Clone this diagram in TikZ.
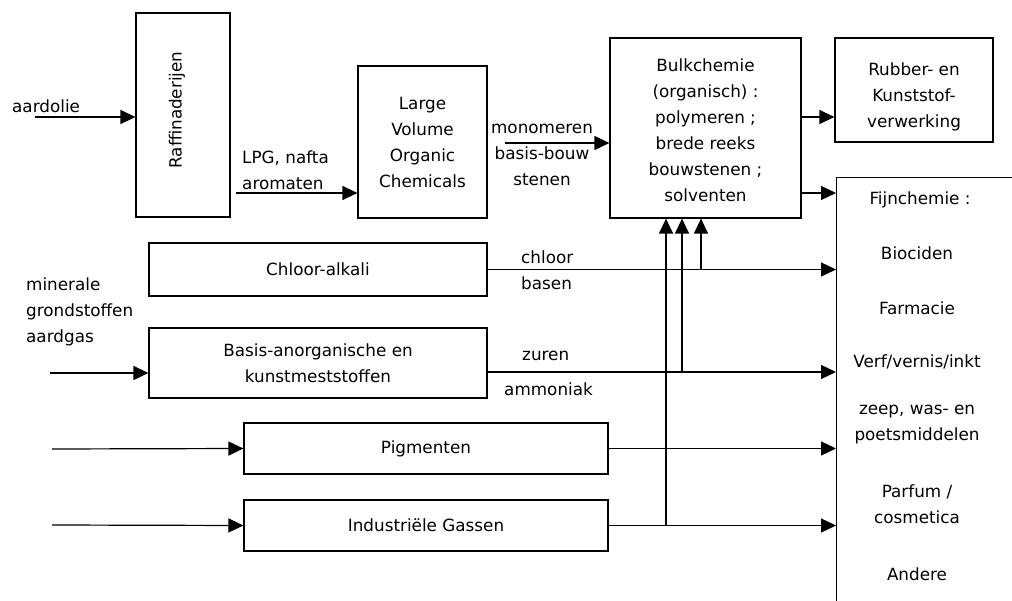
\documentclass[tikz,border=0pt]{standalone}
\usepackage{fontspec}
\setmainfont{DejaVu Sans}
\usetikzlibrary{arrows.meta}
\begin{document}
\begin{tikzpicture}[x=1pt,y=-1pt,
  font=\fontsize{16.8}{26}\selectfont,
  box/.style={draw, line width=1.2pt, inner sep=0pt, align=center},
  txt/.style={inner sep=0pt, align=center},
  ltxt/.style={inner sep=0pt, align=left, anchor=west},
  arr/.style={line width=1.2pt, -{Triangle[length=15pt,width=14pt]}},
  ln/.style={line width=1.2pt}]
\clip (0,0) rectangle (1012,601);
\fill[white] (0,0) rectangle (1012,601);

% process boxes
\node[box, minimum width=94pt, minimum height=204pt] (raf) at (183,115) {};
\node[txt, rotate=90] (rafT) at (177,110) {Raffinaderijen};
\node[box, minimum width=129pt, minimum height=152pt] (lvoc) at (422.5,142)
  {Large\\Volume\\Organic\\Chemicals};
\node[box, minimum width=191pt, minimum height=180pt] (bulk) at (705.5,128) {};
\node[txt] (bulkT) at (705.5,130) {Bulkchemie\\(organisch) :\\polymeren ;\\brede reeks\\bouwstenen ;\\solventen};
\node[box, minimum width=158pt, minimum height=104pt] (rub) at (914,90) {};
\node[txt] (rubT) at (914,97) {Rubber- en\\Kunststof-\\verwerking};
\node[box, anchor=north west, minimum width=260pt, minimum height=500pt] (fijn) at (836,177) {};
\node[box, minimum width=338pt, minimum height=53pt] (chl) at (318,269.5) {Chloor-alkali};
\node[box, minimum width=338pt, minimum height=70pt] (bas) at (318,363) {Basis-anorganische en\\kunstmeststoffen};
\node[box, minimum width=364pt, minimum height=51pt] (pig) at (426,448.5) {Pigmenten};
\node[box, minimum width=364pt, minimum height=51pt] (ind) at (426,525.5) {Industriële Gassen};

% fine chemistry sectors
\node[txt] (f0) at (920,200) {Fijnchemie :};
\node[txt] (f1) at (917,253) {Biociden};
\node[txt] (f2) at (917,308) {Farmacie};
\node[txt] (f3) at (917,362) {Verf/vernis/inkt};
\node[txt] (f4) at (917,425) {zeep, was- en\\poetsmiddelen};
\node[txt] (f5) at (917,504) {Parfum /\\cosmetica};
\node[txt] (f6) at (917,574) {Andere};

% flow labels
\node[ltxt] (lOil) at (12,106) {aardolie};
\node[ltxt] (lLpg) at (242,170) {LPG, nafta\\aromaten};
\node[txt] (lMono) at (542,155) {monomeren\\basis-bouw\\stenen};
\node[ltxt] (lMin) at (26,312) {minerale\\grondstoffen\\aardgas};
\node[ltxt] (lChl) at (521,270.5) {chloor\\basen};
\node[ltxt] (lZur) at (522,356) {zuren};
\node[ltxt] (lAmm) at (504,389) {ammoniak};

% free ends of the input arrows
\coordinate (iOil) at (35,117);
\coordinate (iLpg) at (236,193);
\coordinate (iMono) at (505,143);
\coordinate (iMin) at (50,373);
\coordinate (iPig) at (52,449);
\coordinate (iInd) at (52,525);

\draw[arr] (iOil) -- (iOil -| raf.west);
\draw[arr] (iLpg) -- (iLpg -| lvoc.west);
\draw[arr] (iMono) -- (iMono -| bulk.west);
\draw[arr] (iMin) -- (iMin -| bas.west);
\draw[arr] (iPig) -- (pig.west);
\draw[arr] (iInd) -- (ind.west);

% bulk chemistry outputs
\coordinate (oR) at (801,117);
\coordinate (oF) at (801,193);
\draw[arr] (oR) -- (oR -| rub.west);
\draw[arr] (oF) -- (oF -| fijn.west);

% inorganic streams to fine chemistry
\draw[arr] (chl.east) -- (chl.east -| fijn.west);
\coordinate (oB) at (487,372);
\draw[arr] (oB) -- (oB -| fijn.west);
\draw[arr] (pig.east) -- (pig.east -| fijn.west);
\draw[arr] (ind.east) -- (ind.east -| fijn.west);

% branches feeding bulk chemistry
\coordinate (j1) at (666,525);
\coordinate (j2) at (682,372);
\coordinate (j3) at (701,270);
\draw[arr] (j1) -- (j1 |- bulk.south);
\draw[arr] (j2) -- (j2 |- bulk.south);
\draw[arr] (j3) -- (j3 |- bulk.south);
\end{tikzpicture}
\end{document}
